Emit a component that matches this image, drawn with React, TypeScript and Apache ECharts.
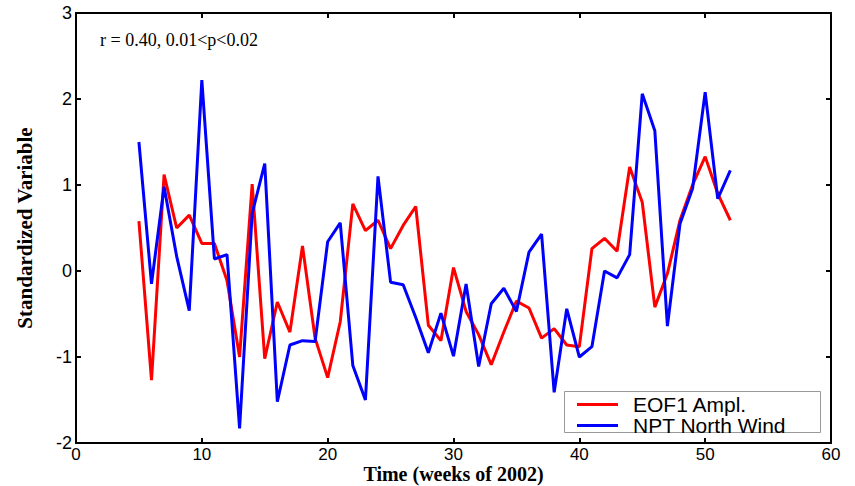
import React, { useEffect, useRef } from "react";
import * as echarts from "echarts";

const weeks = [5, 6, 7, 8, 9, 10, 11, 12, 13, 14, 15, 16, 17, 18, 19, 20, 21, 22, 23, 24, 25, 26, 27, 28, 29, 30, 31, 32, 33, 34, 35, 36, 37, 38, 39, 40, 41, 42, 43, 44, 45, 46, 47, 48, 49, 50, 51, 52];

const eof1 = [0.58, -1.27, 1.12, 0.5, 0.65, 0.32, 0.32, -0.11, -1.0, 1.01, -1.02, -0.36, -0.71, 0.29, -0.78, -1.24, -0.59, 0.78, 0.47, 0.59, 0.26, 0.53, 0.75, -0.63, -0.81, 0.04, -0.47, -0.74, -1.09, -0.71, -0.35, -0.43, -0.78, -0.67, -0.86, -0.88, 0.26, 0.38, 0.23, 1.21, 0.8, -0.42, -0.03, 0.59, 1.0, 1.33, 0.9, 0.59];

const nptWind = [1.5, -0.15, 0.98, 0.17, -0.46, 2.22, 0.14, 0.19, -1.83, 0.67, 1.25, -1.52, -0.86, -0.81, -0.82, 0.34, 0.56, -1.1, -1.5, 1.1, -0.13, -0.16, -0.54, -0.95, -0.49, -0.99, -0.15, -1.11, -0.38, -0.2, -0.47, 0.22, 0.43, -1.41, -0.44, -1.0, -0.88, 0.0, -0.08, 0.19, 2.06, 1.63, -0.64, 0.55, 0.96, 2.08, 0.84, 1.17];

const seriesNames = ["EOF1 Ampl.", "NPT North Wind"];
const seriesColors = ["#ff0000", "#0000ff"];
const annotation = "r = 0.40, 0.01<p<0.02";
const xTitle = "Time (weeks of 2002)";
const yTitle = "Standardized Variable";

export default function App() {
  const ref = useRef<HTMLDivElement>(null);

  useEffect(() => {
    if (!ref.current) return;
    const chart = echarts.init(ref.current, null, { renderer: "svg" });
    const sans = "'Liberation Sans', Arial, sans-serif";
    const serif = "'Liberation Serif', 'Times New Roman', serif";
    const axisLine = { show: true, onZero: false, lineStyle: { color: "#000", width: 2 } };
    const tick = { show: true, inside: true, length: 5, lineStyle: { color: "#000", width: 2 } };
    chart.setOption({
      animation: false,
      backgroundColor: "#fff",
      title: {
        text: annotation,
        left: 100,
        top: 31,
        padding: 0,
        textStyle: { fontFamily: serif, fontSize: 18, fontWeight: "normal", color: "#000" },
      },
      grid: { left: 76, right: 24, top: 13, bottom: 43, containLabel: false, outerBoundsMode: "none" },
      legend: {
        orient: "vertical",
        left: 577,
        top: 394,
        padding: 0,
        itemGap: 0,
        itemWidth: 41,
        itemHeight: 3,
        icon: "rect",
        data: seriesNames,
        textStyle: { fontFamily: sans, fontSize: 21, lineHeight: 19, color: "#000", padding: [0, 0, 0, 10] },
      },
      graphic: [
        {
          type: "rect",
          z: 3,
          shape: { x: 564.5, y: 391.5, width: 256, height: 41 },
          style: { fill: "#fff", stroke: "#999", lineWidth: 1 },
        },
      ],
      xAxis: [
        {
          type: "value",
          min: 0,
          max: 60,
          interval: 10,
          position: "bottom",
          name: xTitle,
          nameLocation: "middle",
          nameGap: 21,
          nameMoveOverlap: false,
          nameTextStyle: { fontFamily: serif, fontWeight: "bold", fontSize: 20, lineHeight: 20, color: "#000", verticalAlign: "top" },
          axisLine,
          axisTick: tick,
          axisLabel: { fontFamily: sans, fontSize: 17, lineHeight: 17, color: "#000", margin: 3 },
          splitLine: { show: false },
        },
        {
          type: "value",
          min: 0,
          max: 60,
          interval: 10,
          position: "top",
          axisLine,
          axisTick: tick,
          axisLabel: { show: false },
          splitLine: { show: false },
        },
      ],
      yAxis: [
        {
          type: "value",
          min: -2,
          max: 3,
          interval: 1,
          position: "left",
          name: yTitle,
          nameLocation: "middle",
          nameGap: 41,
          nameMoveOverlap: false,
          nameTextStyle: { fontFamily: serif, fontWeight: "bold", fontSize: 21, color: "#000" },
          axisLine,
          axisTick: tick,
          axisLabel: { fontFamily: sans, fontSize: 18, color: "#000", margin: 4 },
          splitLine: { show: false },
        },
        {
          type: "value",
          min: -2,
          max: 3,
          interval: 1,
          position: "right",
          axisLine,
          axisTick: tick,
          axisLabel: { show: false },
          splitLine: { show: false },
        },
      ],
      series: [
        {
          name: seriesNames[0],
          type: "line",
          data: weeks.map((w, i) => [w, eof1[i]]),
          showSymbol: false,
          symbol: "none",
          lineStyle: { color: seriesColors[0], width: 3 },
          itemStyle: { color: seriesColors[0] },
          z: 2,
        },
        {
          name: seriesNames[1],
          type: "line",
          data: weeks.map((w, i) => [w, nptWind[i]]),
          showSymbol: false,
          symbol: "none",
          lineStyle: { color: seriesColors[1], width: 3 },
          itemStyle: { color: seriesColors[1] },
          z: 2,
        },
      ],
    });
    return () => chart.dispose();
  }, []);

  return <div ref={ref} style={{ position: "fixed", left: 0, top: 0, width: 855, height: 486 }} />;
}
